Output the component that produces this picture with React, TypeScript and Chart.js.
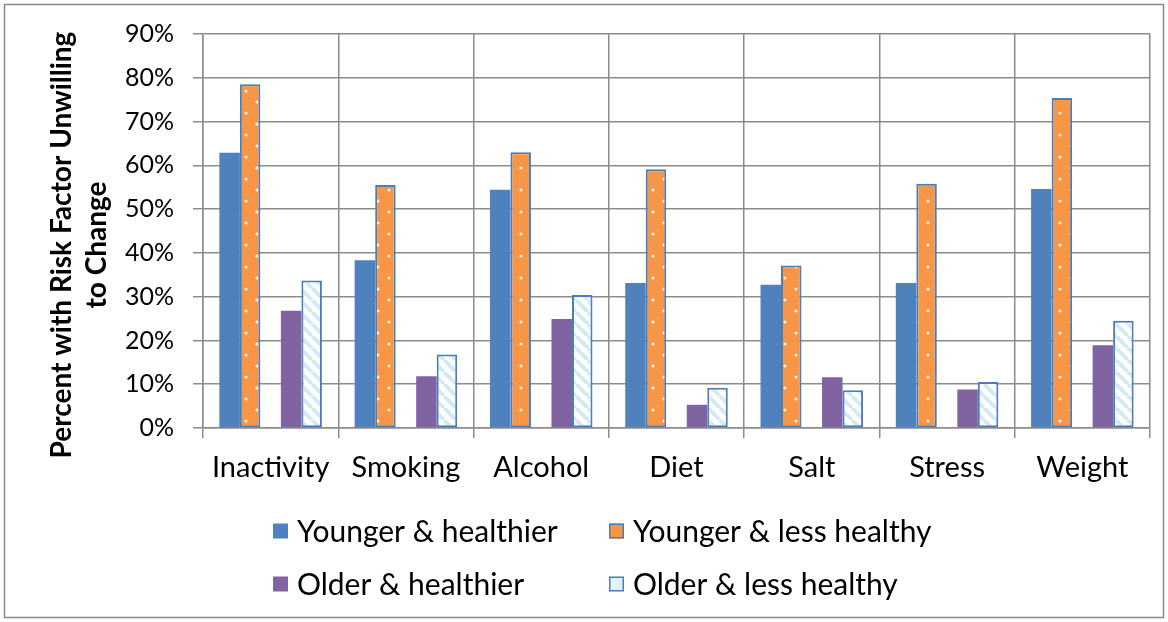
import React, { useEffect, useRef } from 'react';
import { Chart, registerables } from 'chart.js';

Chart.register(...registerables);

// Share of respondents unwilling to change each risk factor (percent)
const categories = ['Inactivity', 'Smoking', 'Alcohol', 'Diet', 'Salt', 'Stress', 'Weight'];
const youngerHealthier = [62.9, 38.3, 54.4, 33.1, 32.7, 33.1, 54.6];
const youngerLessHealthy = [78.5, 55.5, 63.0, 59.1, 37.1, 55.8, 75.4];
const olderHealthier = [26.8, 11.8, 24.9, 5.3, 11.6, 8.8, 18.9];
const olderLessHealthy = [33.7, 16.8, 30.4, 9.2, 8.6, 10.5, 24.5];
const seriesNames = ['Younger & healthier', 'Younger & less healthy', 'Older & healthier', 'Older & less healthy'];
const yAxisTitle = ['Percent with Risk Factor Unwilling', 'to Change'];
const Y_MAX = 90;
const Y_STEP = 10;

const W = 1168;
const H = 622;
const FONT = 'Lato, sans-serif';
const BLUE = '#4F81BD';
const ORANGE = '#F79646';
const PURPLE = '#8064A2';
const EDGE = '#4A7EBB';
const GRID = '#8c8c8c';
const FRAME = '#8a8a8a';

// Orange fill with a sparse grid of small white dots
function makeDotPattern(): CanvasPattern {
  const c = document.createElement('canvas');
  c.width = 22;
  c.height = 22;
  const g = c.getContext('2d')!;
  g.fillStyle = ORANGE;
  g.fillRect(0, 0, 22, 22);
  g.fillStyle = 'rgba(255,255,255,0.9)';
  for (const [x, y] of [[4, 3], [15, 14]]) {
    g.beginPath();
    g.arc(x, y, 1.5, 0, Math.PI * 2);
    g.fill();
  }
  return g.createPattern(c, 'repeat')!;
}

// White fill with pale blue downward diagonal stripes
function makeHatchPattern(): CanvasPattern {
  const s = 12;
  const c = document.createElement('canvas');
  c.width = s;
  c.height = s;
  const g = c.getContext('2d')!;
  g.fillStyle = '#ffffff';
  g.fillRect(0, 0, s, s);
  g.strokeStyle = '#d4eaf2';
  g.lineWidth = 4;
  for (const o of [-s, 0, s]) {
    g.beginPath();
    g.moveTo(o, 0);
    g.lineTo(o + s, s);
    g.stroke();
  }
  return g.createPattern(c, 'repeat')!;
}

const framePlugin = {
  id: 'frame',
  beforeDraw(chart: Chart) {
    const { ctx, width, height } = chart;
    ctx.save();
    ctx.fillStyle = '#ffffff';
    ctx.fillRect(0, 0, width, height);
    ctx.strokeStyle = FRAME;
    ctx.lineWidth = 1.5;
    ctx.strokeRect(4.5, 4.5, width - 9, height - 9);
    ctx.restore();
  },
};

const yTitlePlugin = {
  id: 'yTitle',
  afterDraw(chart: Chart) {
    const { ctx } = chart;
    ctx.save();
    ctx.translate(62, 245);
    ctx.rotate(-Math.PI / 2);
    ctx.fillStyle = '#000';
    ctx.font = `bold 28px ${FONT}`;
    ctx.textAlign = 'center';
    ctx.textBaseline = 'middle';
    yAxisTitle.forEach((line, i) => ctx.fillText(line, 0, i * 35));
    ctx.restore();
  },
};

function makeLegendPlugin(fills: (string | CanvasPattern)[], bordered: boolean[]) {
  const cols = [273, 609];
  const rows = [531, 584];
  const box = 15;
  return {
    id: 'legendBlock',
    afterDraw(chart: Chart) {
      const { ctx } = chart;
      ctx.save();
      ctx.font = `30px ${FONT}`;
      ctx.textBaseline = 'middle';
      ctx.textAlign = 'left';
      seriesNames.forEach((name, i) => {
        const x = cols[i % 2];
        const y = rows[Math.floor(i / 2)];
        ctx.fillStyle = fills[i];
        ctx.fillRect(x, y - box / 2, box, box);
        if (bordered[i]) {
          ctx.strokeStyle = EDGE;
          ctx.lineWidth = 1.5;
          ctx.strokeRect(x + 0.75, y - box / 2 + 0.75, box - 1.5, box - 1.5);
        }
        ctx.fillStyle = '#000';
        ctx.fillText(name, x + box + 9, y + 1);
      });
      ctx.restore();
    },
  };
}

export default function App() {
  const ref = useRef<HTMLCanvasElement>(null);

  useEffect(() => {
    document.body.style.margin = '0';
    const canvas = ref.current!;
    const dots = makeDotPattern();
    const hatch = makeHatchPattern();
    const legendPlugin = makeLegendPlugin([BLUE, ORANGE, PURPLE, '#e6f2f7'], [false, true, false, true]);

    const chart = new Chart(canvas, {
      type: 'bar',
      data: {
        labels: categories,
        datasets: [
          { label: seriesNames[0], data: youngerHealthier, backgroundColor: BLUE, borderWidth: 0 },
          {
            label: seriesNames[1],
            data: youngerLessHealthy,
            backgroundColor: dots,
            borderColor: EDGE,
            borderWidth: 2,
            borderSkipped: false,
          },
          // empty slot separating the younger and older groups
          { label: '', data: categories.map(() => null) },
          { label: seriesNames[2], data: olderHealthier, backgroundColor: PURPLE, borderWidth: 0 },
          {
            label: seriesNames[3],
            data: olderLessHealthy,
            backgroundColor: hatch,
            borderColor: EDGE,
            borderWidth: 2,
            borderSkipped: false,
          },
        ],
      },
      options: {
        responsive: false,
        animation: false,
        devicePixelRatio: 1,
        layout: { padding: { top: 34, right: 18, bottom: 134, left: 0 } },
        datasets: { bar: { categoryPercentage: 0.758, barPercentage: 1 } },
        plugins: {
          legend: { display: false },
          tooltip: { enabled: false },
        },
        scales: {
          x: {
            grid: { color: GRID, lineWidth: 1.5, tickLength: 10, offset: true },
            border: { color: GRID, width: 1.5 },
            ticks: {
              color: '#000',
              font: { family: FONT, size: 29 },
              padding: 12,
              maxRotation: 0,
              autoSkip: false,
            },
            afterFit: (s: any) => {
              s.height = 60;
            },
          },
          y: {
            min: 0,
            max: Y_MAX,
            grid: { color: GRID, lineWidth: 1.5, tickLength: 10 },
            border: { color: GRID, width: 1.5 },
            ticks: {
              stepSize: Y_STEP,
              color: '#000',
              font: { family: FONT, size: 25 },
              padding: 19,
              callback: (v: any) => `${v}%`,
            },
            afterFit: (s: any) => {
              s.width = 203;
            },
          },
        },
      },
      plugins: [framePlugin, yTitlePlugin, legendPlugin],
    });

    return () => chart.destroy();
  }, []);

  return <canvas ref={ref} width={W} height={H} style={{ display: 'block' }} />;
}
